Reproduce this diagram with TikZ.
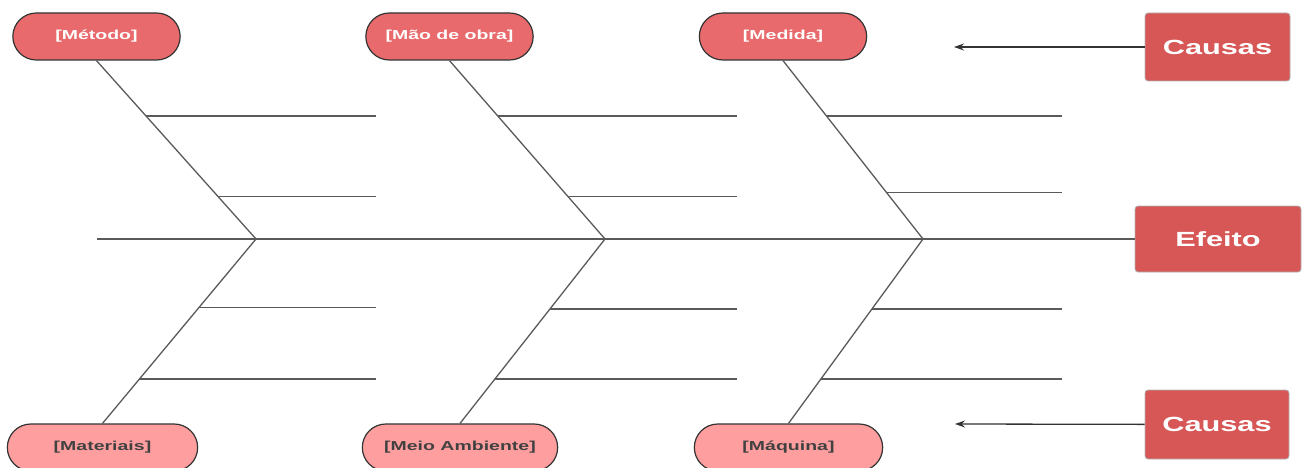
\documentclass[tikz,border=0pt]{standalone}
\usepackage{fontspec}
\usepackage{xcolor}
\usepackage{tikz}
\usetikzlibrary{calc,arrows.meta,shapes.misc}

\newfontfamily\diagfont{Liberation Sans}[FakeStretch=1.5]
\definecolor{rosaescuro}{RGB}{233,106,108}
\definecolor{rosaclaro}{RGB}{255,158,158}
\definecolor{vermelho}{RGB}{215,86,86}
\definecolor{cinza}{RGB}{90,90,90}
\definecolor{cinzatexto}{RGB}{65,65,65}

\begin{document}
\begin{tikzpicture}[x=1pt,y=-1pt,
   linha/.style={draw=cinza,line width=1.3pt},
   seta/.style={draw=black!80,line width=1.3pt,-{Stealth[length=10pt,width=7pt]}},
   causa alta/.style={rounded rectangle,draw=black!80,line width=1.2pt,fill=rosaescuro,
     minimum width=174pt,minimum height=47pt,text=white,
     font=\diagfont\bfseries\fontsize{13}{15}\selectfont},
   causa baixa/.style={rounded rectangle,draw=black!80,line width=1.2pt,fill=rosaclaro,
     minimum width=197pt,minimum height=47pt,text=cinzatexto,
     font=\diagfont\bfseries\fontsize{13}{15}\selectfont},
   caixa/.style={draw=black!30,line width=0.8pt,fill=vermelho,rounded corners=3pt,text=white,
     font=\diagfont\bfseries\fontsize{20.5}{25}\selectfont}]

  \useasboundingbox (0,0) rectangle (1307,468);

  \node[causa alta] (metodo) at (96.5,36.5) {[Método]};
  \node[causa alta] (mao) at (449.5,36.5) {[Mão de obra]};
  \node[causa alta] (medida) at (783,36.5) {[Medida]};
  \node[causa baixa] (materiais) at (102.5,447.5) {[Materiais]};
  \node[causa baixa,minimum width=202pt] (meio) at (460,447.5) {[Meio Ambiente]};
  \node[causa baixa,minimum width=195pt] (maquina) at (788.5,447.5) {[Máquina]};

  \node[caixa,minimum width=145pt,minimum height=68pt] (causas1) at (1217.5,47) {Causas};
  \node[caixa,minimum width=166pt,minimum height=66pt] (efeito) at (1218,239) {Efeito};
  \node[caixa,minimum width=144pt,minimum height=69pt] (causas2) at (1217,424.5) {Causas};

  \coordinate (inicio) at (97,239);
  \coordinate (j1) at (256,239);
  \coordinate (j2) at (605,239);
  \coordinate (j3) at (923,239);
  \coordinate (fim1) at (376,0);
  \coordinate (fim2) at (737,0);
  \coordinate (fim3) at (1062,0);
  \coordinate (seta1) at (954,47);
  \coordinate (seta2) at (955,424);

  \draw[linha] (inicio) -- (efeito);
  \foreach \ini/\ter in {metodo/j1,mao/j2,medida/j3} \draw[linha] (\ini.south) -- (\ter);
  \foreach \ini/\ter in {j1/materiais,j2/meio,j3/maquina} \draw[linha] (\ini) -- (\ter.north);

  % espinhas menores
  \foreach \ini/\ter/\pos/\fim in {metodo.south/j1/0.31/fim1,metodo.south/j1/0.76/fim1,
      j1/materiais.north/0.37/fim1,j1/materiais.north/0.76/fim1,
      mao.south/j2/0.31/fim2,mao.south/j2/0.76/fim2,
      j2/meio.north/0.38/fim2,j2/meio.north/0.76/fim2,
      medida.south/j3/0.31/fim3,medida.south/j3/0.74/fim3,
      j3/maquina.north/0.38/fim3,j3/maquina.north/0.76/fim3}
    \draw[linha] ($(\ini)!\pos!(\ter)$) coordinate (p) -- (p -| \fim);

  \draw[seta] (causas1) -- (seta1);
  \draw[seta] (causas2) -- (seta2);
\end{tikzpicture}
\end{document}
